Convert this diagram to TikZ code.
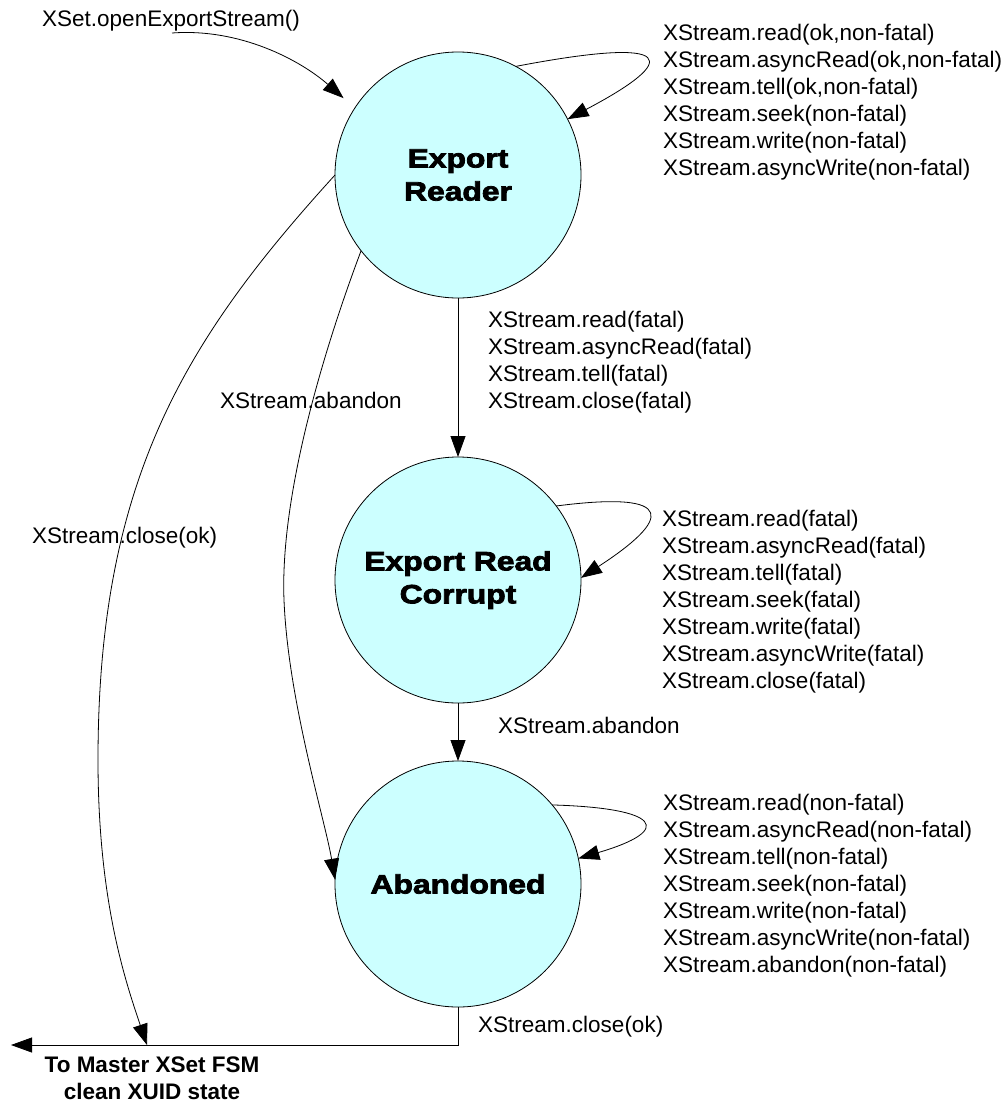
\documentclass[tikz,border=0pt]{standalone}
\usepackage{fontspec}
\setmainfont{Liberation Sans}
\newfontfamily\statefont[FakeStretch=1.2,FakeBold=3]{Liberation Sans}
\usetikzlibrary{arrows.meta}
\definecolor{statefill}{RGB}{204,255,255}
\begin{document}
\begin{tikzpicture}[x=1pt,y=-1pt,
  state/.style={circle,draw,fill=statefill,minimum size=246pt,inner sep=0pt,outer sep=0pt,line width=0.8pt,
    font=\statefont\bfseries\fontsize{26.5}{33}\selectfont,align=center},
  lbl/.style={font=\fontsize{22.5}{27}\selectfont,align=left,inner sep=0pt,anchor=west},
  arr/.style={line width=0.8pt,-{Triangle[length=21pt,width=15pt]}},
  ]
\useasboundingbox (0,0) rectangle (1008,1103);

% states
\node[state] (c1) at (458,175) {Export\\Reader};
\node[state] (c2) at (458,580) {Export Read\\Corrupt};
\node[state] (c3) at (458,884) {Abandoned};

% start
\node[lbl,anchor=center] (xset) at (171,21) {XSet.openExportStream()};
\coordinate (xsetstart) at (172,33);
\draw[arr,shorten >=15pt] (xsetstart) .. controls (240,28) and (300,60) .. (c1.147);

% self loops
\draw[arr] (c1.62) .. controls (680,35) and (680,60) .. (c1.27);
\draw[arr] (c2.37) .. controls (680,490) and (670,520) .. (c2.1);
\draw[arr] (c3.40) .. controls (660,808) and (675,830) .. (c3.12);

% straight transitions
\draw[arr] (c1.south) -- (c2.north);
\draw[arr] (c2.south) -- (c3.north);

% abandon from reader
\draw[arr] (c1.218) .. controls (320,360) and (280,500) .. (284,600)
  .. controls (288,700) and (325,820) .. (c3.178);

% exit
\coordinate (merge) at (147,1045);
\coordinate (exittip) at (11,1045);
\draw[arr] (c3.south) |- (exittip);
\draw[arr] (c1.west) .. controls (185,340) and (98,480) .. (98,760)
  .. controls (98,900) and (125,980) .. (merge);

% labels
\node[lbl] (l1) at (663,102.5) {XStream.read(ok,non-fatal)\\XStream.asyncRead(ok,non-fatal)\\XStream.tell(ok,non-fatal)\\XStream.seek(non-fatal)\\XStream.write(non-fatal)\\XStream.asyncWrite(non-fatal)};
\node[lbl] (l2) at (488,362.5) {XStream.read(fatal)\\XStream.asyncRead(fatal)\\XStream.tell(fatal)\\XStream.close(fatal)};
\node[lbl] (l3) at (662,602) {XStream.read(fatal)\\XStream.asyncRead(fatal)\\XStream.tell(fatal)\\XStream.seek(fatal)\\XStream.write(fatal)\\XStream.asyncWrite(fatal)\\XStream.close(fatal)};
\node[lbl] (l4) at (498,725) {XStream.abandon};
\node[lbl] (l5) at (663,886) {XStream.read(non-fatal)\\XStream.asyncRead(non-fatal)\\XStream.tell(non-fatal)\\XStream.seek(non-fatal)\\XStream.write(non-fatal)\\XStream.asyncWrite(non-fatal)\\XStream.abandon(non-fatal)};
\node[lbl] (l6) at (220,400) {XStream.abandon};
\node[lbl] (l7) at (32,538) {XStream.close(ok)};
\node[lbl] (l8) at (478,1027) {XStream.close(ok)};
\node[lbl,anchor=center,align=center,font=\bfseries\fontsize{22.5}{27}\selectfont] (l9) at (152,1078.5) {To Master XSet FSM\\clean XUID state};
\end{tikzpicture}
\end{document}
